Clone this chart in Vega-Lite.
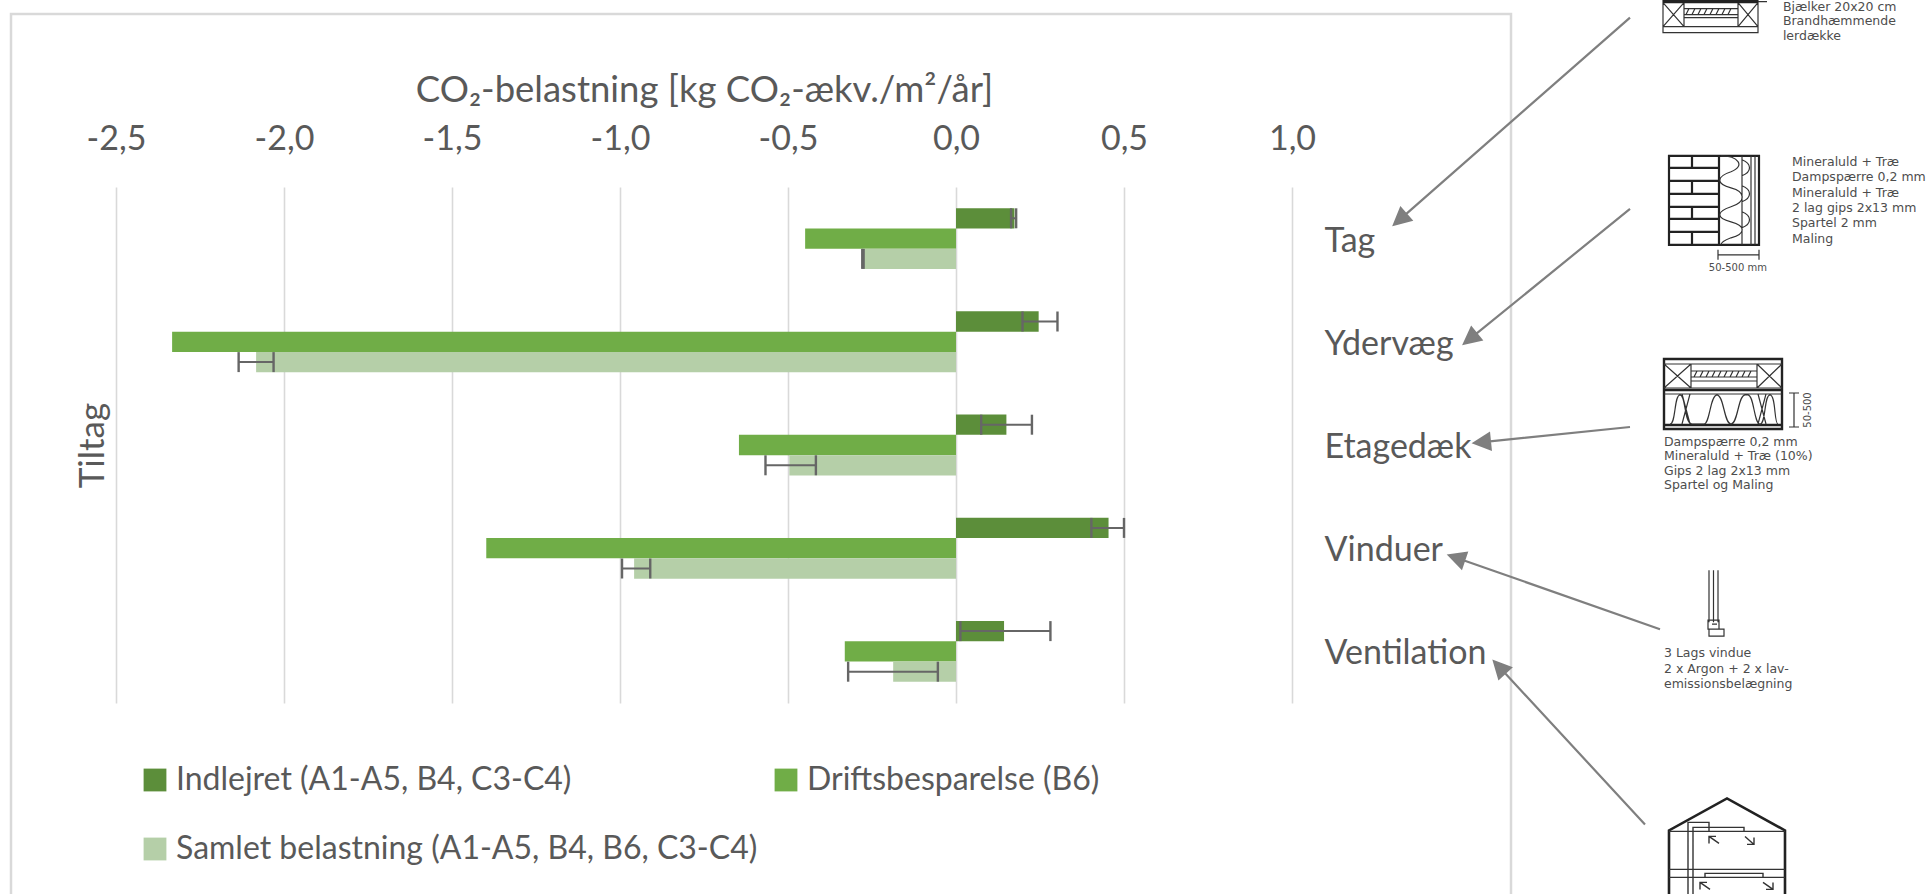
{"$schema":"https://vega.github.io/schema/vega-lite/v6.json","width":1176,"height":516,"autosize":{"type":"none"},"padding":{"left":116,"top":187,"right":637,"bottom":191},"background":"#ffffff","config":{"view":{"stroke":null},"font":"Lato"},"datasets":{"bars":[{"Tiltag":"Tag","serie":"Indlejret (A1-A5, B4, C3-C4)","value":0.174,"lo":0.164,"hi":0.179},{"Tiltag":"Tag","serie":"Driftsbesparelse (B6)","value":-0.449},{"Tiltag":"Tag","serie":"Samlet belastning (A1-A5, B4, B6, C3-C4)","value":-0.277,"lo":-0.279,"hi":-0.275},{"Tiltag":"Ydervæg","serie":"Indlejret (A1-A5, B4, C3-C4)","value":0.246,"lo":0.198,"hi":0.302},{"Tiltag":"Ydervæg","serie":"Driftsbesparelse (B6)","value":-2.333},{"Tiltag":"Ydervæg","serie":"Samlet belastning (A1-A5, B4, B6, C3-C4)","value":-2.083,"lo":-2.135,"hi":-2.031},{"Tiltag":"Etagedæk","serie":"Indlejret (A1-A5, B4, C3-C4)","value":0.15,"lo":0.075,"hi":0.226},{"Tiltag":"Etagedæk","serie":"Driftsbesparelse (B6)","value":-0.646},{"Tiltag":"Etagedæk","serie":"Samlet belastning (A1-A5, B4, B6, C3-C4)","value":-0.496,"lo":-0.567,"hi":-0.417},{"Tiltag":"Vinduer","serie":"Indlejret (A1-A5, B4, C3-C4)","value":0.454,"lo":0.403,"hi":0.5},{"Tiltag":"Vinduer","serie":"Driftsbesparelse (B6)","value":-1.398},{"Tiltag":"Vinduer","serie":"Samlet belastning (A1-A5, B4, B6, C3-C4)","value":-0.958,"lo":-0.994,"hi":-0.91},{"Tiltag":"Ventilation","serie":"Indlejret (A1-A5, B4, C3-C4)","value":0.143,"lo":0.013,"hi":0.281},{"Tiltag":"Ventilation","serie":"Driftsbesparelse (B6)","value":-0.331},{"Tiltag":"Ventilation","serie":"Samlet belastning (A1-A5, B4, B6, C3-C4)","value":-0.187,"lo":-0.321,"hi":-0.054}]},"layer":[{"data":{"values":[{"Tiltag":"Etagedæk"}]},"mark":{"type":"point","shape":"M-945,449V-431H555V449","size":4,"filled":false,"stroke":"#d9d9d9","strokeWidth":2.5,"opacity":1},"encoding":{"x":{"datum":0},"y":{"field":"Tiltag","type":"nominal"}}},{"data":{"name":"bars"},"mark":{"type":"bar"},"encoding":{"x":{"field":"value","type":"quantitative","title":"CO₂-belastning [kg CO₂-ækv./m²/år]","scale":{"domain":[-2.5,1],"nice":false,"zero":false},"axis":{"orient":"top","values":[-2.5,-2,-1.5,-1,-0.5,0,0.5,1],"labelExpr":"replace(replace(format(datum.value,'.1f'),'.',','),'−','-')","labelFlush":false,"labelOverlap":false,"grid":true,"gridColor":"#d9d9d9","gridWidth":1.6,"domain":false,"ticks":false,"labelFontSize":34,"labelColor":"#595959","labelPadding":31,"labelFont":"Lato","titleFont":"Lato","titleFontSize":36.5,"titleFontWeight":"normal","titleColor":"#595959","titlePadding":13}},"y":{"field":"Tiltag","type":"nominal","scale":{"domain":["Tag","Ydervæg","Etagedæk","Vinduer","Ventilation"],"paddingInner":0.41,"paddingOuter":0.205},"axis":{"orient":"right","domain":false,"ticks":false,"grid":false,"labelFontSize":34,"labelColor":"#595959","labelPadding":32,"labelFont":"Lato","labelOffset":3,"title":"Tiltag","titleFont":"Lato","titleFontSize":35,"titleFontWeight":"normal","titleColor":"#595959","titleAngle":270,"titleX":-1200,"titleY":258,"titleAlign":"center","titleBaseline":"middle"}},"yOffset":{"field":"serie","type":"nominal","scale":{"domain":["Indlejret (A1-A5, B4, C3-C4)","Driftsbesparelse (B6)","Samlet belastning (A1-A5, B4, B6, C3-C4)"],"paddingInner":0,"paddingOuter":0}},"color":{"field":"serie","type":"nominal","scale":{"domain":["Indlejret (A1-A5, B4, C3-C4)","Samlet belastning (A1-A5, B4, B6, C3-C4)","Driftsbesparelse (B6)"],"range":["#5c8e3a","#b5cfa8","#70ad47"]},"legend":{"title":null,"orient":"none","legendX":23,"legendY":577,"columns":2,"columnPadding":12,"rowPadding":37,"symbolType":"square","symbolSize":520,"symbolStrokeWidth":0,"symbolOpacity":1,"labelFontSize":32,"labelColor":"#595959","labelFont":"Lato","labelOffset":5,"labelLimit":800}}}},{"data":{"name":"bars"},"transform":[{"filter":"isValid(datum.lo)"}],"mark":{"type":"rule","stroke":"#666666","strokeWidth":2},"encoding":{"x":{"field":"lo","type":"quantitative"},"x2":{"field":"hi"},"y":{"field":"Tiltag","type":"nominal"},"yOffset":{"field":"serie","type":"nominal"}}},{"data":{"name":"bars"},"transform":[{"filter":"isValid(datum.lo)"}],"mark":{"type":"tick","orient":"vertical","color":"#666666","thickness":2.4,"size":20,"opacity":1},"encoding":{"x":{"field":"lo","type":"quantitative"},"y":{"field":"Tiltag","type":"nominal"},"yOffset":{"field":"serie","type":"nominal"}}},{"data":{"name":"bars"},"transform":[{"filter":"isValid(datum.lo)"}],"mark":{"type":"tick","orient":"vertical","color":"#666666","thickness":2.4,"size":20,"opacity":1},"encoding":{"x":{"field":"hi","type":"quantitative"},"y":{"field":"Tiltag","type":"nominal"},"yOffset":{"field":"serie","type":"nominal"}}},{"data":{"values":[{"Tiltag":"Tag"}]},"mark":{"type":"point","shape":"M2,-221L-222,-24.5M-234,-14L-216.7,-18.5L-227.3,-30.5Z","size":4,"filled":true,"fill":"#7f7f7f","stroke":"#7f7f7f","strokeWidth":2.2,"opacity":1},"encoding":{"x":{"datum":2},"y":{"field":"Tiltag","type":"nominal"}}},{"data":{"values":[{"Tiltag":"Ydervæg"}]},"mark":{"type":"point","shape":"M2,-133L-151.6,-8.1M-164,2L-146.6,-1.9L-156.6,-14.3Z","size":4,"filled":true,"fill":"#7f7f7f","stroke":"#7f7f7f","strokeWidth":2.2,"opacity":1},"encoding":{"x":{"datum":2},"y":{"field":"Tiltag","type":"nominal"}}},{"data":{"values":[{"Tiltag":"Etagedæk"}]},"mark":{"type":"point","shape":"M2,-18L-138.1,-3.6M-154,-2L-137.3,4.4L-138.9,-11.6Z","size":4,"filled":true,"fill":"#7f7f7f","stroke":"#7f7f7f","strokeWidth":2.2,"opacity":1},"encoding":{"x":{"datum":2},"y":{"field":"Tiltag","type":"nominal"}}},{"data":{"values":[{"Tiltag":"Vinduer"}]},"mark":{"type":"point","shape":"M32,81L-163.9,12.3M-179,7L-166.5,19.9L-161.3,4.7Z","size":4,"filled":true,"fill":"#7f7f7f","stroke":"#7f7f7f","strokeWidth":2.2,"opacity":1},"encoding":{"x":{"datum":2},"y":{"field":"Tiltag","type":"nominal"}}},{"data":{"values":[{"Tiltag":"Ventilation"}]},"mark":{"type":"point","shape":"M17,173L-123.1,21.7M-134,10L-129,27.1L-117.2,16.3Z","size":4,"filled":true,"fill":"#7f7f7f","stroke":"#7f7f7f","strokeWidth":2.2,"opacity":1},"encoding":{"x":{"datum":2},"y":{"field":"Tiltag","type":"nominal"}}},{"data":{"values":[{"Tiltag":"Tag"}]},"mark":{"type":"point","shape":"M35,-239V-206H130V-239M35,-212H130M56,-236V-212M110,-236V-212M35,-236L56,-212M56,-236L35,-212M110,-236L130,-212M130,-236L110,-212M56,-230H110M56,-224H110M56,-221H110M58,-224L61,-230M64,-224L67,-230M70,-224L73,-230M76,-224L79,-230M82,-224L85,-230M88,-224L91,-230M94,-224L97,-230M100,-224L103,-230M130,-237H139","size":4,"filled":false,"stroke":"#333333","strokeWidth":1.2,"opacity":1},"encoding":{"x":{"datum":2},"y":{"field":"Tiltag","type":"nominal"}}},{"data":{"values":[{"Tiltag":"Tag"}]},"mark":{"type":"point","shape":"M35,-237H130","size":4,"filled":false,"stroke":"#222222","strokeWidth":3.5,"opacity":1},"encoding":{"x":{"datum":2},"y":{"field":"Tiltag","type":"nominal"}}},{"data":{"values":[{"Tiltag":"Ydervæg"}]},"mark":{"type":"point","shape":"M41,-186H131V-97H41ZM41,-174H91M41,-161H91M41,-148H91M41,-135H91M41,-123H91M41,-110H91M91,-186V-97M64,-186V-174M64,-161V-148M64,-135V-123M64,-110V-97","size":4,"filled":false,"stroke":"#222222","strokeWidth":2.2,"opacity":1},"encoding":{"x":{"datum":2},"y":{"field":"Tiltag","type":"nominal"}}},{"data":{"values":[{"Tiltag":"Ydervæg"}]},"mark":{"type":"point","shape":"M114,-186V-97M123,-186V-97M127,-186V-97M93,-186C110,-186 118,-176 103,-170C88,-165 88,-158 103,-154C118,-150 118,-140 103,-135C88,-130 88,-124 103,-120C118,-116 118,-108 103,-104C95,-101 93,-99 93,-97M114,-182C124,-178 124,-170 114,-166M114,-156C124,-152 124,-144 114,-140M114,-130C124,-126 124,-118 114,-114M90,-87H131M90,-92V-82M131,-92V-82","size":4,"filled":false,"stroke":"#333333","strokeWidth":1.2,"opacity":1},"encoding":{"x":{"datum":2},"y":{"field":"Tiltag","type":"nominal"}}},{"data":{"values":[{"Tiltag":"Etagedæk"}]},"mark":{"type":"point","shape":"M36,-86H154V-16H36ZM36,-55H154M36,-20H154","size":4,"filled":false,"stroke":"#222222","strokeWidth":2.4,"opacity":1},"encoding":{"x":{"datum":2},"y":{"field":"Tiltag","type":"nominal"}}},{"data":{"values":[{"Tiltag":"Etagedæk"}]},"mark":{"type":"point","shape":"M36,-81H154M63,-81V-57M129,-81V-57M36,-57H154M36,-81L63,-57M63,-81L36,-57M129,-81L154,-57M154,-81L129,-57M63,-74H129M63,-68H129M63,-64H129M36,-51H154M66,-68L69,-74M72,-68L75,-74M78,-68L81,-74M84,-68L87,-74M90,-68L93,-74M96,-68L99,-74M102,-68L105,-74M108,-68L111,-74M114,-68L117,-74M120,-68L123,-74M42,-21C48,-21 46,-50 52,-50C58,-50 56,-21 64,-21H76C82,-21 82,-50 89,-50C96,-50 96,-21 103,-21C110,-21 110,-50 117,-50H120C126,-50 126,-21 132,-21C138,-21 136,-50 142,-50C148,-50 146,-21 150,-21M54,-51L62,-21M62,-51L54,-21M130,-51L138,-21M138,-51L130,-21M166,-52V-18M161,-52H171M161,-18H171","size":4,"filled":false,"stroke":"#333333","strokeWidth":1.2,"opacity":1},"encoding":{"x":{"datum":2},"y":{"field":"Tiltag","type":"nominal"}}},{"data":{"values":[{"Tiltag":"Vinduer"}]},"mark":{"type":"point","shape":"M81,22V74M85.5,22V74M90,22V74M80,72H91V81H80ZM81,81H96V88H81ZM84,76H89","size":4,"filled":false,"stroke":"#333333","strokeWidth":1.2,"opacity":1},"encoding":{"x":{"datum":2},"y":{"field":"Tiltag","type":"nominal"}}},{"data":{"values":[{"Tiltag":"Ventilation"}]},"mark":{"type":"point","shape":"M41,243V179L99,147L157,179V243","size":4,"filled":false,"stroke":"#222222","strokeWidth":2.6,"opacity":1},"encoding":{"x":{"datum":2},"y":{"field":"Tiltag","type":"nominal"}}},{"data":{"values":[{"Tiltag":"Ventilation"}]},"mark":{"type":"point","shape":"M41,180H157M41,218H157M41,226H157M60,243V171H81V180M65,243V176H116V180M77,226V222H135V226M91,192L81,185M81,192V185H88M117,185L126,193M126,186V193H119M82,238L72,231M72,238V231H79M135,231L145,238M145,231V238H138","size":4,"filled":false,"stroke":"#333333","strokeWidth":1.4,"opacity":1},"encoding":{"x":{"datum":2},"y":{"field":"Tiltag","type":"nominal"}}},{"data":{"values":[{"Tiltag":"Tag","note":"Bjælker 20x20 cm\nBrandhæmmende\nlerdække"}]},"mark":{"type":"text","lineBreak":"\n","align":"left","baseline":"top","font":"DejaVu Sans","fontSize":12.5,"lineHeight":14.5,"color":"#4d4d4d","yOffset":-238},"encoding":{"x":{"datum":2.461},"y":{"field":"Tiltag","type":"nominal"},"text":{"field":"note"}}},{"data":{"values":[{"Tiltag":"Ydervæg","note":"Mineraluld + Træ\nDampspærre 0,2 mm\nMineraluld + Træ\n2 lag gips 2x13 mm\nSpartel 2 mm\nMaling"}]},"mark":{"type":"text","lineBreak":"\n","align":"left","baseline":"top","font":"DejaVu Sans","fontSize":12.5,"lineHeight":15.4,"color":"#4d4d4d","yOffset":-186},"encoding":{"x":{"datum":2.488},"y":{"field":"Tiltag","type":"nominal"},"text":{"field":"note"}}},{"data":{"values":[{"Tiltag":"Ydervæg","note":"50-500 mm"}]},"mark":{"type":"text","align":"center","baseline":"middle","font":"DejaVu Sans","fontSize":10,"color":"#4d4d4d","yOffset":-74},"encoding":{"x":{"datum":2.327},"y":{"field":"Tiltag","type":"nominal"},"text":{"field":"note"}}},{"data":{"values":[{"Tiltag":"Etagedæk","note":"Dampspærre 0,2 mm\nMineraluld + Træ (10%)\nGips 2 lag 2x13 mm\nSpartel og Maling"}]},"mark":{"type":"text","lineBreak":"\n","align":"left","baseline":"top","font":"DejaVu Sans","fontSize":12.5,"lineHeight":14.4,"color":"#4d4d4d","yOffset":-9},"encoding":{"x":{"datum":2.107},"y":{"field":"Tiltag","type":"nominal"},"text":{"field":"note"}}},{"data":{"values":[{"Tiltag":"Etagedæk","note":"50-500"}]},"mark":{"type":"text","align":"center","baseline":"middle","angle":270,"font":"DejaVu Sans","fontSize":10,"color":"#4d4d4d","yOffset":-35},"encoding":{"x":{"datum":2.536},"y":{"field":"Tiltag","type":"nominal"},"text":{"field":"note"}}},{"data":{"values":[{"Tiltag":"Vinduer","note":"3 Lags vindue\n2 x Argon + 2 x lav-\nemissionsbelægning"}]},"mark":{"type":"text","lineBreak":"\n","align":"left","baseline":"top","font":"DejaVu Sans","fontSize":12.5,"lineHeight":15.5,"color":"#4d4d4d","yOffset":99},"encoding":{"x":{"datum":2.107},"y":{"field":"Tiltag","type":"nominal"},"text":{"field":"note"}}}]}
